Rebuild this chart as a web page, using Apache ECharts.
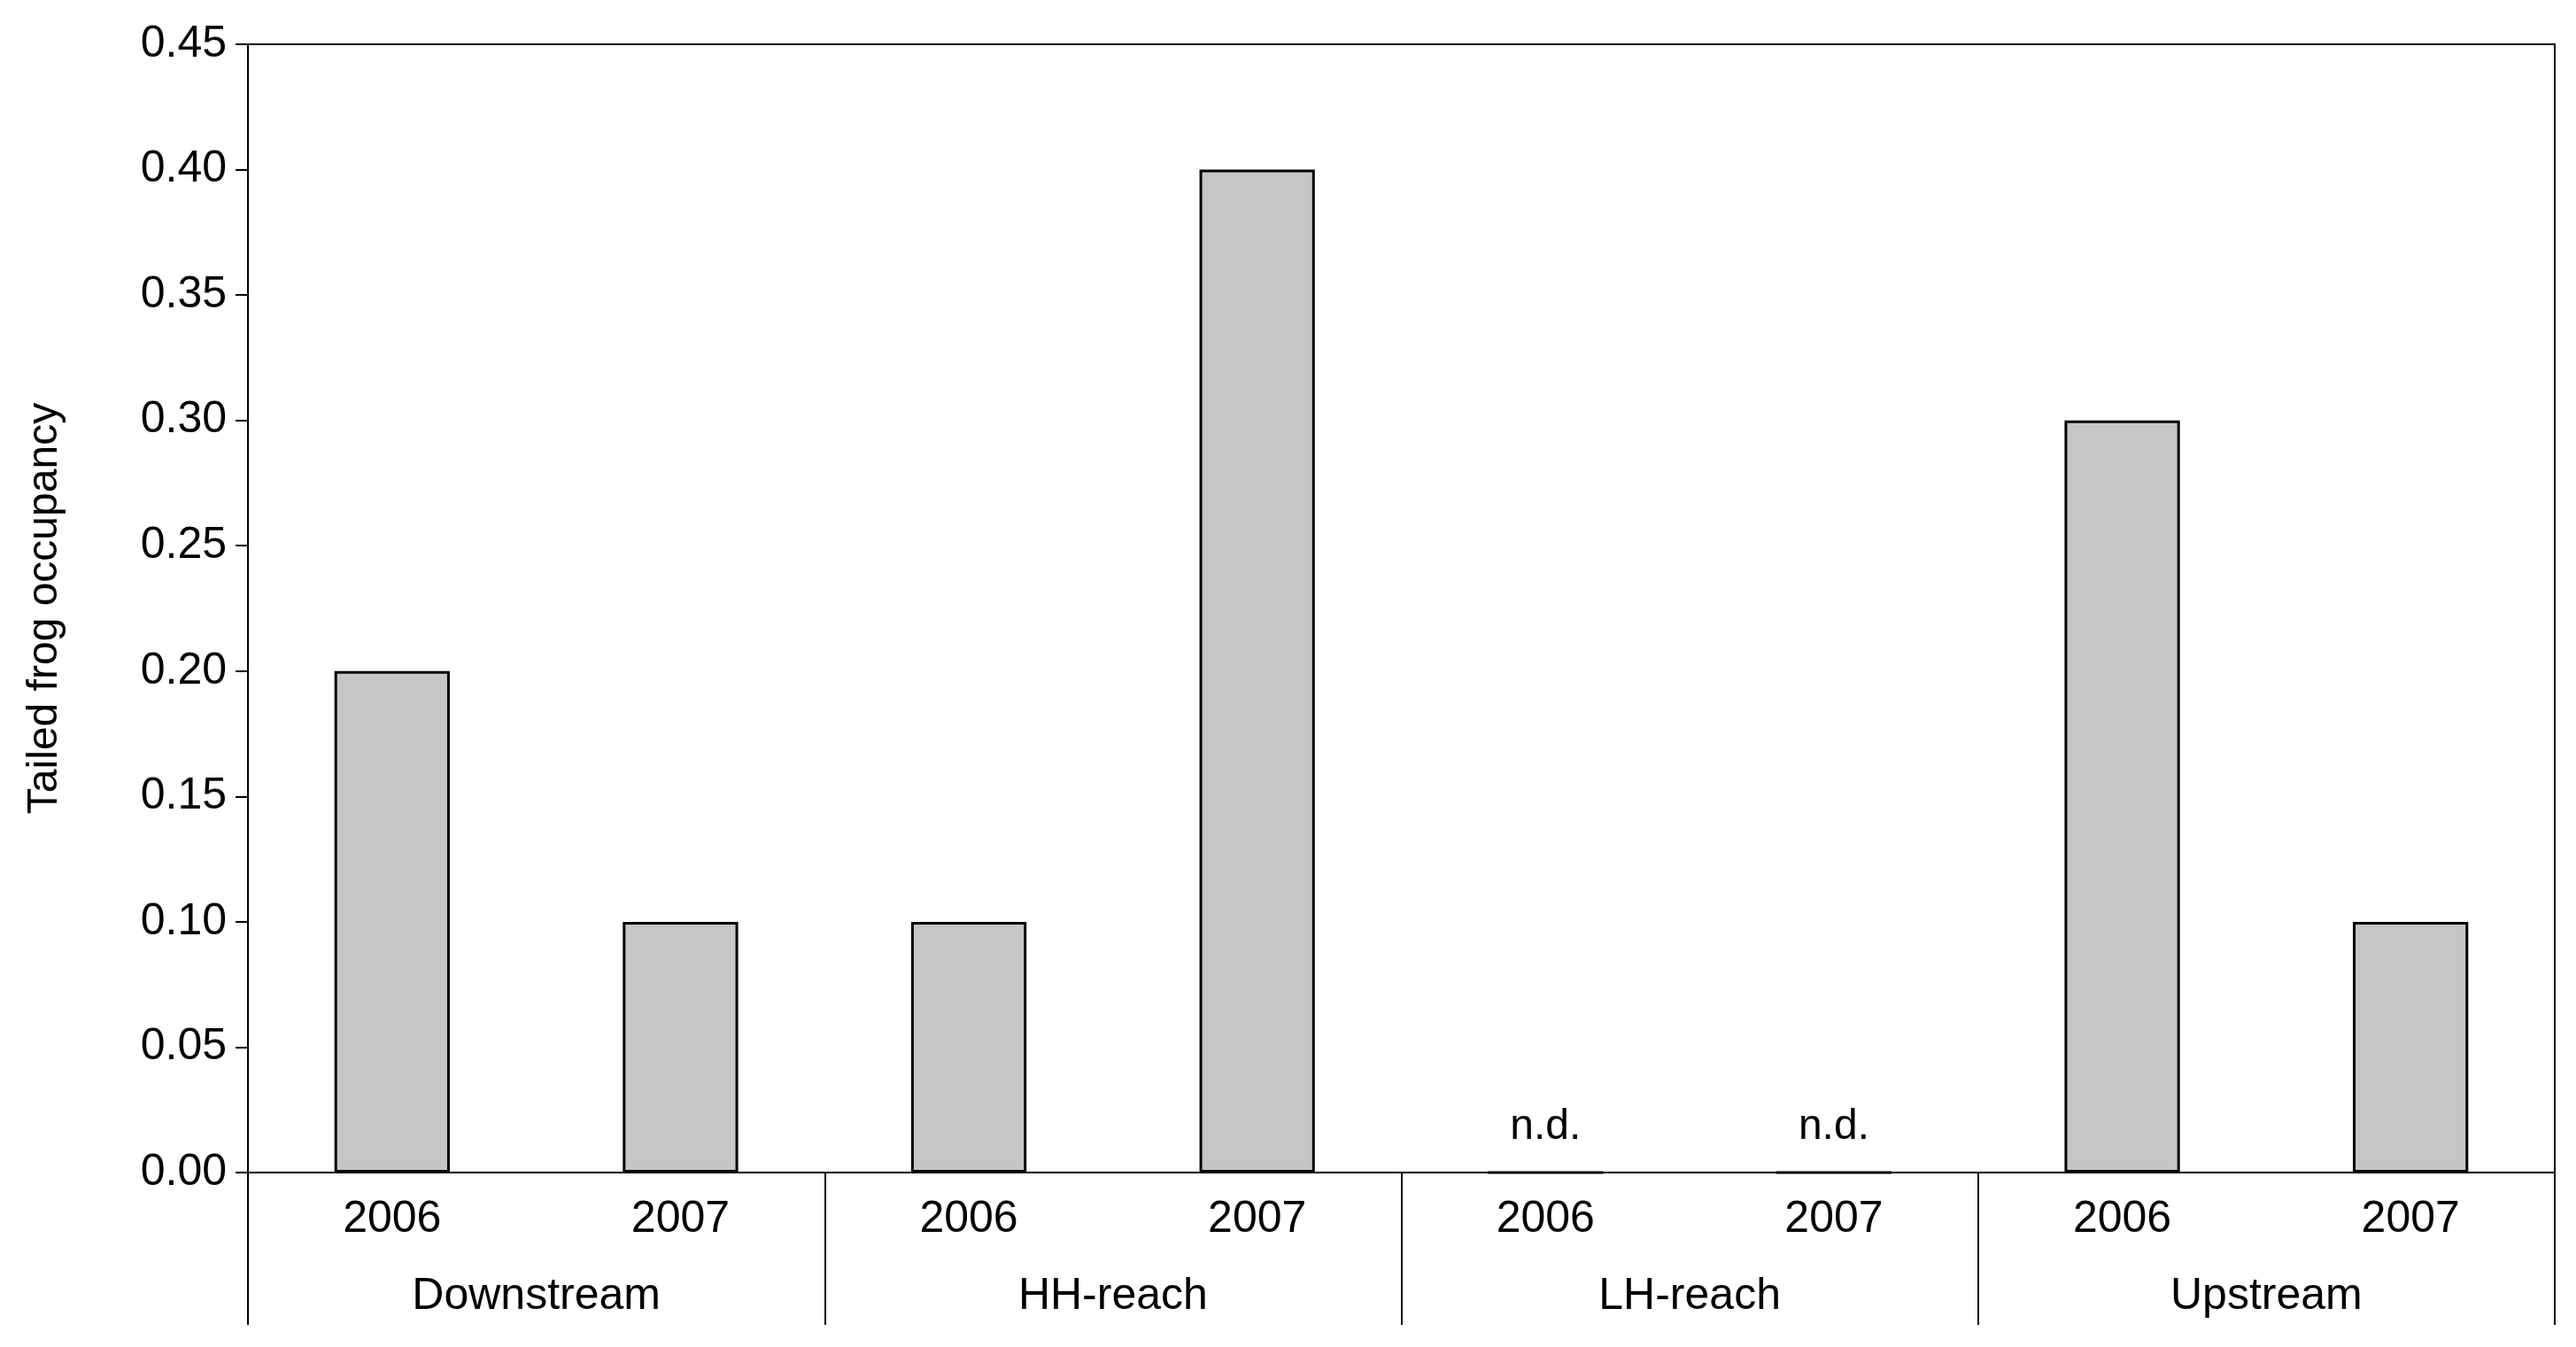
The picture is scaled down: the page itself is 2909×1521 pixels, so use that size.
<!DOCTYPE html>
<html><head><meta charset="utf-8">
<script src="https://cdn.jsdelivr.net/npm/echarts@6/dist/echarts.min.js"></script>
<style>html,body{margin:0;background:#fff}#chart{width:2909px;height:1521px}</style>
</head><body><div id="chart"></div>
<script>
const years = ['2006', '2007', '2006', '2007', '2006', '2007', '2006', '2007']
const groups = ['Downstream', 'HH-reach', 'LH-reach', 'Upstream']
const occupancy = [0.20, 0.10, 0.10, 0.40, 0, 0, 0.30, 0.10]
const noData = [false, false, false, false, true, true, false, false]

const font = 'Liberation Sans, Arial, sans-serif'
const chart = echarts.init(document.getElementById('chart'))

chart.setOption({
  animation: false,
  grid: { left: 280, right: 24, top: 50, bottom: 197, show: true, borderColor: '#000', borderWidth: 2 },
  xAxis: [
    {
      type: 'category', data: years, position: 'bottom',
      axisLine: { lineStyle: { color: '#000', width: 2 } },
      axisTick: { show: false },
      axisLabel: { color: '#000', fontSize: 50, fontFamily: font, margin: 28 }
    },
    {
      type: 'category', data: groups, position: 'bottom',
      axisLine: { show: false },
      axisTick: { show: true, interval: 0, length: 172, lineStyle: { color: '#000', width: 2 } },
      axisLabel: { color: '#000', fontSize: 50, fontFamily: font, margin: 115 }
    }
  ],
  yAxis: {
    type: 'value', min: 0, max: 0.45, interval: 0.05,
    name: 'Tailed frog occupancy', nameLocation: 'middle', nameGap: 205,
    nameTextStyle: { color: '#000', fontSize: 48, fontFamily: font },
    axisLine: { show: true, lineStyle: { color: '#000', width: 2 } },
    axisTick: { show: true, inside: false, length: 14, lineStyle: { color: '#000', width: 2 } },
    splitLine: { show: false },
    axisLabel: { color: '#000', fontSize: 50, fontFamily: font, margin: 24, formatter: v => v.toFixed(2) }
  },
  series: [{
    type: 'bar', xAxisIndex: 0, barWidth: '40%',
    itemStyle: { color: '#c6c6c6', borderColor: '#000', borderWidth: 3 },
    data: occupancy.map((v, i) => noData[i]
      ? { value: v, label: { show: true, position: 'top', distance: 26, formatter: 'n.d.', color: '#000', fontSize: 48, fontFamily: font } }
      : v)
  }]
})
</script>
</body></html>
